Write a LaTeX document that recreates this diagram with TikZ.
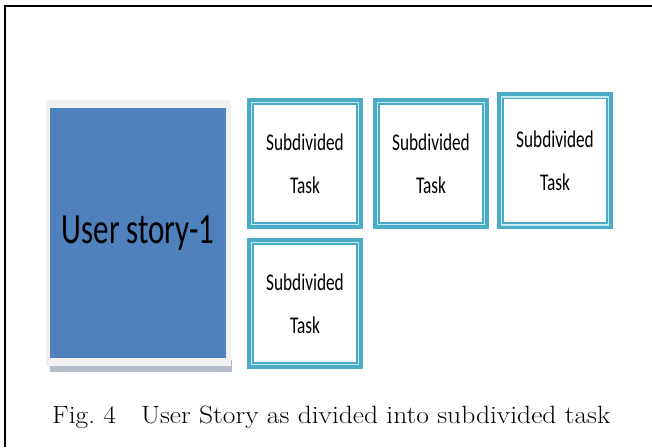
\documentclass[tikz,border=0pt]{standalone}
\usepackage{fontspec}
\usepackage{tikz}
\usetikzlibrary{positioning, backgrounds}

\newfontfamily\boxfont[FakeStretch=0.72]{Carlito}
\newfontfamily\capfont[FakeStretch=1.1]{Latin Modern Roman}
\definecolor{storyblue}{HTML}{4F81BD}
\definecolor{taskteal}{HTML}{4BACC6}
\definecolor{panelgray}{HTML}{F1F1F1}
\definecolor{shadowgray}{HTML}{B4BCC9}
\definecolor{paleteal}{HTML}{C4E6EF}

\begin{document}
\begin{tikzpicture}[
    x=1pt, y=1pt,
    story/.style={rectangle, fill=storyblue, minimum width=176pt, minimum height=250pt, inner sep=0pt, font=\boxfont\fontsize{43}{50}\selectfont},
    taskbox/.style={rectangle, draw=taskteal, line width=7pt, fill=white, minimum width=109pt, minimum height=124pt, inner sep=0pt, align=center, font=\boxfont\fontsize{24}{43}\selectfont},
    innerline/.style={draw=taskteal, line width=1pt},
    paleline/.style={draw=paleteal, line width=1.5pt}
]
\useasboundingbox (0,0) rectangle (652,447);

% frame
\draw[line width=2pt] (5,0) -- (5,441.2) -- (652,441.2);

% user story
\node[story] (story) at (138,214) {User story-1};

% tasks
\node[taskbox] (task1) at (305,283.5) {Subdivided\\Task};
\node[taskbox, below=9pt of task1] (task2) {Subdivided\\Task};
\node[taskbox, right=10pt of task1] (task3) {Subdivided\\Task};
\node[taskbox, right=8pt of task3, minimum height=130pt, yshift=2.5pt] (task4) {Subdivided\\Task};

% inner double lines of the task boxes
\foreach \t in {task1,task2,task3,task4} {
    \draw[paleline] ([shift={(4.4pt,-4.4pt)}]\t.north west) rectangle ([shift={(-4.4pt,4.4pt)}]\t.south east);
    \draw[innerline] ([shift={(5.8pt,-5.8pt)}]\t.north west) rectangle ([shift={(-5.8pt,5.8pt)}]\t.south east);
}

% panel and shadow behind the story
\begin{scope}[on background layer]
    \fill[shadowgray] ([shift={(0pt,-2pt)}]story.south west) rectangle ([shift={(6pt,-14pt)}]story.south east);
    \fill[panelgray] ([shift={(-4pt,8pt)}]story.north west) rectangle ([shift={(5pt,-8pt)}]story.south east);
\end{scope}

% caption
\node[anchor=base west, font=\capfont\fontsize{25}{30}\selectfont, inner sep=0pt] (caption) at (52,24) {Fig.~4\quad User Story as divided into subdivided task};

\end{tikzpicture}
\end{document}
